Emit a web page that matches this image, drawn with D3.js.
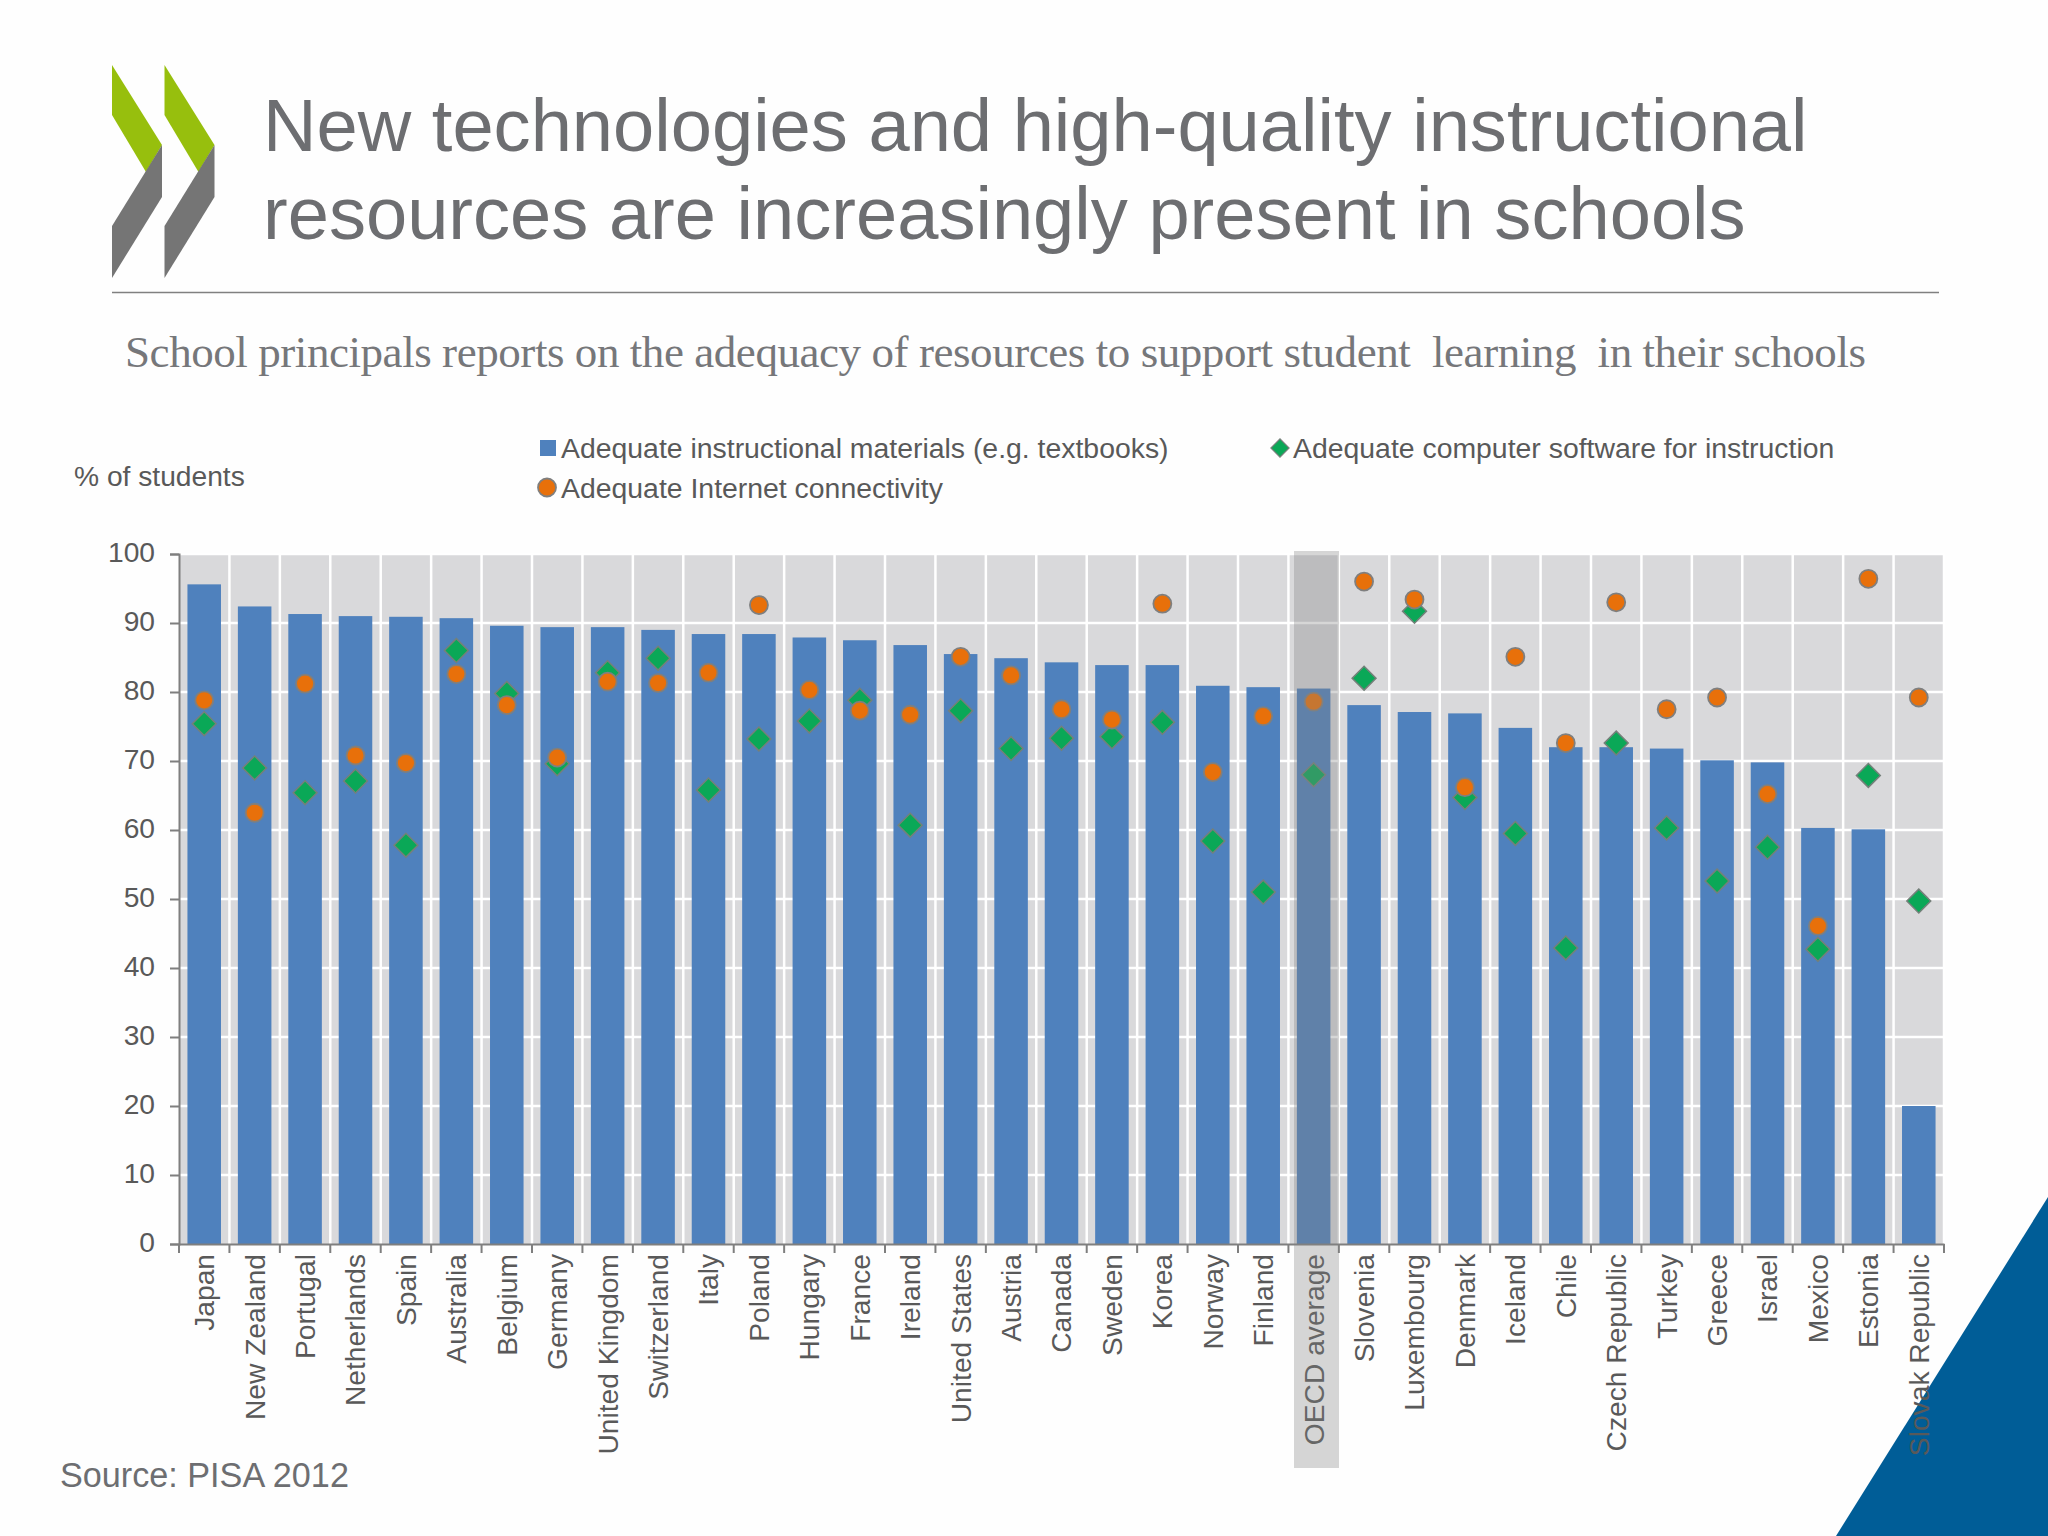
<!DOCTYPE html>
<html>
<head>
<meta charset="utf-8">
<script src="https://cdn.jsdelivr.net/npm/d3@7"></script>
<style>
  html, body { margin: 0; padding: 0; background: #fefefe; }
  svg { display: block; }
  text { font-family: "Liberation Sans", sans-serif; fill: #595959; }
</style>
</head>
<body>
<div id="chart"></div>
<script>
var categories = ["Japan", "New Zealand", "Portugal", "Netherlands", "Spain", "Australia", "Belgium", "Germany", "United Kingdom", "Switzerland", "Italy", "Poland", "Hungary", "France", "Ireland", "United States", "Austria", "Canada", "Sweden", "Korea", "Norway", "Finland", "OECD average", "Slovenia", "Luxembourg", "Denmark", "Iceland", "Chile", "Czech Republic", "Turkey", "Greece", "Israel", "Mexico", "Estonia", "Slovak Republic"];
var materials = [95.6, 92.4, 91.3, 91, 90.9, 90.7, 89.6, 89.4, 89.4, 89, 88.4, 88.4, 87.9, 87.5, 86.8, 85.5, 84.9, 84.3, 83.9, 83.9, 80.9, 80.7, 80.5, 78.1, 77.1, 76.9, 74.8, 72, 72, 71.8, 70.1, 69.8, 60.3, 60.1, 20];
var software = [75.4, 69, 65.4, 67.1, 57.8, 86, 79.8, 69.6, 82.8, 84.9, 65.8, 73.2, 75.8, 78.8, 60.7, 77.3, 71.8, 73.3, 73.5, 75.6, 58.4, 51, 68, 82, 91.7, 64.7, 59.5, 42.9, 72.6, 60.3, 52.6, 57.5, 42.7, 67.9, 49.7];
var internet = [78.8, 62.5, 81.2, 70.8, 69.7, 82.6, 78.1, 70.5, 81.5, 81.3, 82.8, 92.6, 80.3, 77.3, 76.7, 85.1, 82.4, 77.5, 76, 92.8, 68.4, 76.5, 78.6, 96, 93.4, 66.2, 85.1, 72.6, 93, 77.5, 79.2, 65.2, 46.1, 96.4, 79.2];
var yTicks = [0, 10, 20, 30, 40, 50, 60, 70, 80, 90, 100];

var titleLines = ["New technologies and high-quality instructional", "resources are increasingly present in schools"];
var subtitle = "School principals reports on the adequacy of resources to support student  learning  in their schools";
var legendLabels = ["Adequate instructional materials (e.g. textbooks)", "Adequate computer software for instruction", "Adequate Internet connectivity"];

var width = 2048;
var height = 1536;
var plotLeft = 179;
var plotRight = 1944;
var plotTop = 554;
var plotBottom = 1244;

var svg = d3.select("#chart").append("svg")
  .attr("width", width)
  .attr("height", height);

// logo and corner
function drawPoly(points, color) {
  svg.append("polygon")
    .attr("points", points.map(function(p) { return p.join(","); }).join(" "))
    .attr("fill", color);
}
[112, 164.5].forEach(function(x0) {
  drawPoly([[x0, 65], [x0 + 50, 145], [x0 + 34, 172], [x0, 115]], "#97bf0d");
  drawPoly([[x0 + 50, 145], [x0 + 50, 197], [x0, 278], [x0, 226]], "#757575");
});
drawPoly([[1836, 1536], [2048, 1197], [2048, 1536]], "#005d97");

// title
svg.selectAll(".title")
  .data(titleLines)
  .enter()
  .append("text")
  .attr("class", "title")
  .attr("x", 263)
  .attr("y", function(d, i) { return 151 + i * 88; })
  .attr("font-size", 74.1)
  .style("fill", "#6d6e71")
  .text(function(d) { return d; });

svg.append("line")
  .attr("x1", 112).attr("x2", 1939)
  .attr("y1", 292.5).attr("y2", 292.5)
  .attr("stroke", "#808080")
  .attr("stroke-width", 1.5);

svg.append("text")
  .attr("x", 125)
  .attr("y", 367)
  .attr("font-size", 45)
  .attr("textLength", 1741)
  .style("font-family", "'Liberation Serif', serif")
  .style("white-space", "pre")
  .style("fill", "#76777a")
  .text(subtitle);

var xScale = d3.scaleBand()
  .domain(categories)
  .range([plotLeft, plotRight])
  .paddingInner(0.335)
  .paddingOuter(0.1675);

var yScale = d3.scaleLinear()
  .domain([0, 100])
  .range([plotBottom, plotTop]);

// plot background and grid
svg.append("rect")
  .attr("x", plotLeft)
  .attr("y", plotTop)
  .attr("width", plotRight - plotLeft)
  .attr("height", plotBottom - plotTop)
  .attr("fill", "#d9d9db");

var edges = categories.map(function(d) { return xScale(d) - xScale.step() * xScale.paddingInner() / 2; });
edges.push(plotRight);

svg.append("g").selectAll("line")
  .data(yTicks.slice(1))
  .enter()
  .append("line")
  .attr("x1", plotLeft).attr("x2", plotRight)
  .attr("y1", function(d) { return yScale(d); })
  .attr("y2", function(d) { return yScale(d); })
  .attr("stroke", "#ffffff")
  .attr("stroke-width", 2.5);

svg.append("g").selectAll("line")
  .data(edges.slice(1))
  .enter()
  .append("line")
  .attr("x1", function(d) { return d; })
  .attr("x2", function(d) { return d; })
  .attr("y1", plotTop).attr("y2", plotBottom)
  .attr("stroke", "#ffffff")
  .attr("stroke-width", 2.5);

// bars
svg.append("g").selectAll("rect")
  .data(materials)
  .enter()
  .append("rect")
  .attr("x", function(d, i) { return xScale(categories[i]); })
  .attr("y", function(d) { return yScale(d); })
  .attr("width", xScale.bandwidth())
  .attr("height", function(d) { return plotBottom - yScale(d); })
  .attr("fill", "#4f81bd");

// axes
var yAxis = svg.append("g")
  .attr("transform", "translate(" + plotLeft + ",0)")
  .call(d3.axisLeft(yScale).tickValues(yTicks).tickSize(9).tickPadding(15));

yAxis.selectAll("text").attr("dy", "0.28em");

var xAxis = svg.append("g")
  .attr("transform", "translate(0," + plotBottom + ")")
  .call(d3.axisBottom(xScale).tickSize(0).tickPadding(0));

xAxis.selectAll("text")
  .attr("transform", "rotate(-90)")
  .attr("text-anchor", "end")
  .attr("x", -10)
  .attr("y", 0)
  .attr("dy", "0.35em");

xAxis.selectAll(".tickmark")
  .data(edges)
  .enter()
  .append("line")
  .attr("class", "tickmark")
  .attr("x1", function(d) { return d; })
  .attr("x2", function(d) { return d; })
  .attr("y1", 0).attr("y2", 9)
  .attr("stroke", "#7f7f7f")
  .attr("stroke-width", 2);

[yAxis, xAxis].forEach(function(axis) {
  axis.selectAll(".domain, .tick line").attr("stroke", "#7f7f7f").attr("stroke-width", 2);
  axis.selectAll("text").attr("font-size", 28.2).attr("font-family", null).style("fill", "#595959");
});

// markers
var diamond = d3.symbol().type(d3.symbolSquare);

svg.append("g").selectAll("path")
  .data(software)
  .enter()
  .append("path")
  .attr("d", diamond.size(285))
  .attr("transform", function(d, i) {
    return "translate(" + (xScale(categories[i]) + xScale.bandwidth() / 2) + "," + yScale(d) + ") rotate(45)";
  })
  .attr("fill", "#0aa857")
  .attr("stroke", "#75807a")
  .attr("stroke-width", 1.5);

svg.append("g").selectAll("circle")
  .data(internet)
  .enter()
  .append("circle")
  .attr("cx", function(d, i) { return xScale(categories[i]) + xScale.bandwidth() / 2; })
  .attr("cy", function(d) { return yScale(d); })
  .attr("r", 9)
  .attr("fill", "#e8700a")
  .attr("stroke", "#7f7f7f")
  .attr("stroke-width", 1.8);

// OECD highlight band, sits over everything
svg.append("rect")
  .attr("x", 1294)
  .attr("y", 551)
  .attr("width", 45)
  .attr("height", 917)
  .attr("fill", "#828282")
  .attr("fill-opacity", 0.33);

// legend
svg.append("rect")
  .attr("x", 540).attr("y", 440)
  .attr("width", 16).attr("height", 16)
  .attr("fill", "#4f81bd");
svg.append("path")
  .attr("d", d3.symbol().type(d3.symbolSquare).size(165))
  .attr("transform", "translate(1280,448) rotate(45)")
  .attr("fill", "#0aa857")
  .attr("stroke", "#75807a")
  .attr("stroke-width", 1.2);
svg.append("circle")
  .attr("cx", 547).attr("cy", 487.5).attr("r", 9)
  .attr("fill", "#e8700a")
  .attr("stroke", "#7f7f7f")
  .attr("stroke-width", 1.8);

var legendX = [561, 1293, 561];
var legendY = [458, 458, 498];
svg.selectAll(".legend")
  .data(legendLabels)
  .enter()
  .append("text")
  .attr("class", "legend")
  .attr("x", function(d, i) { return legendX[i]; })
  .attr("y", function(d, i) { return legendY[i]; })
  .attr("font-size", 28.4)
  .text(function(d) { return d; });

svg.append("text")
  .attr("x", 74).attr("y", 486)
  .attr("font-size", 28.2)
  .text("% of students");

svg.append("text")
  .attr("x", 60).attr("y", 1487)
  .attr("font-size", 34.2)
  .style("fill", "#6d6e71")
  .text("Source: PISA 2012");
</script>
</body>
</html>
